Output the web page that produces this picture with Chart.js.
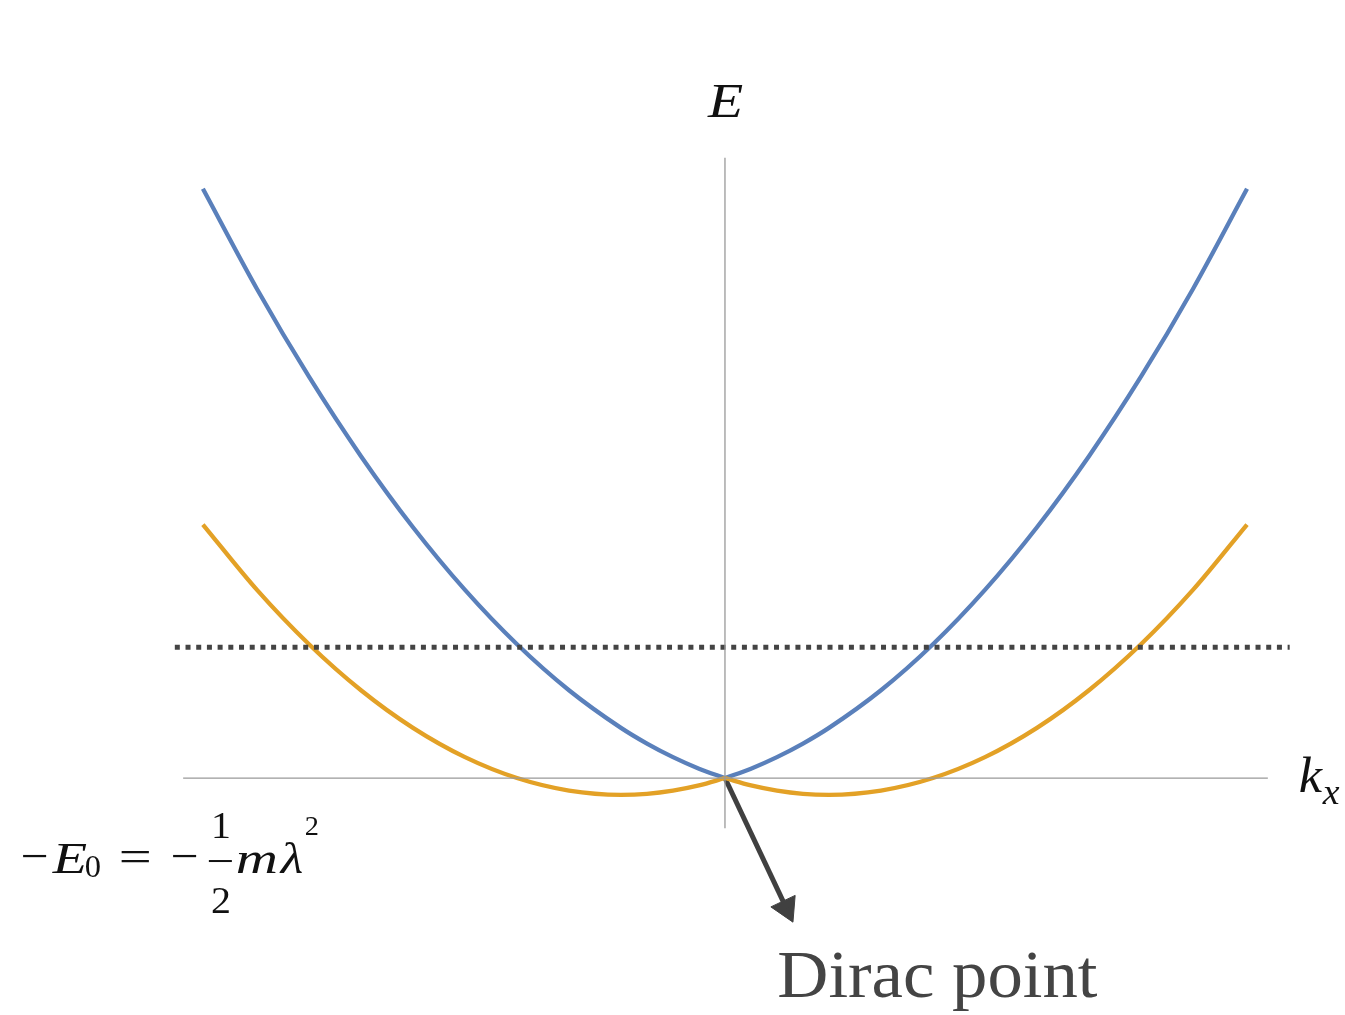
<!DOCTYPE html>
<html>
<head>
<meta charset="utf-8">
<script src="https://cdn.jsdelivr.net/npm/chart.js@4/dist/chart.umd.min.js"></script>
<style>
  html, body { margin: 0; padding: 0; background: #fff; }
  #wrap { width: 1345px; height: 1015px; }
</style>
</head>
<body>
<div id="wrap"><canvas id="bands" width="1345" height="1015"></canvas></div>
<script>
// momentum k (units of m*lambda), right half; left half is the mirror image
let kRight = [0, 0.25, 0.5, 0.75, 1, 1.5, 2, 2.5, 3, 3.5, 4, 4.5, 5.02]
// energies (units of E0/2) for the two spin branches
let upperE = [0, 0.56, 1.25, 2.06, 3, 5.25, 8, 11.25, 15, 19.25, 24, 29.25, 35.24]
let lowerE = [0, -0.44, -0.75, -0.94, -1, -0.75, 0, 1.25, 3, 5.25, 8, 11.25, 15.16]

let fermiLevel = 7.83
let fermiRange = [-5.29, 5.43]
let kAxisRange = [-5.21, 5.22]
let eAxisRange = [-3.0, 37.1]
// arrow from the crossing down to the label
let arrowFrom = [0, 0]
let arrowTo = [0.59, -7.78]

let blue = '#5a80bb'
let orange = '#e3a126'

function branch(ks, es, sign){
    return ks.map((k, i) => ({x: sign * k, y: es[i]}))
}

function curve(points, color){
    return {
        data: points,
        showLine: true,
        borderColor: color,
        borderWidth: 4.3,
        pointRadius: 0,
        cubicInterpolationMode: 'monotone',
        fill: false
    }
}

function straight(points, color, width, dash){
    return {
        data: points,
        showLine: true,
        borderColor: color,
        borderWidth: width,
        borderDash: dash || [],
        borderCapStyle: 'butt',
        pointRadius: 0,
        tension: 0,
        fill: false
    }
}

// text stretched sideways a little, the serif here is narrower than TeX's
function wideText(ctx, txt, x, y, font, sx){
    ctx.save()
    ctx.font = font
    ctx.translate(x, y)
    ctx.scale(sx, 1)
    ctx.fillText(txt, 0, 0)
    ctx.restore()
}

// text labels drawn on top, anchored through the scales
const labelsPlugin = {
    id: 'labels',
    afterDraw(chart){
        const ctx = chart.ctx
        const xs = chart.scales.x
        const ys = chart.scales.y
        const px = (k, e) => [xs.getPixelForValue(k), ys.getPixelForValue(e)]
        const it = 'italic 45px "Liberation Serif"'
        const up = '45px "Liberation Serif"'
        const frac = '38px "Liberation Serif"'
        ctx.save()
        ctx.fillStyle = '#111'
        ctx.textBaseline = 'alphabetic'
        ctx.textAlign = 'left'

        // E on the vertical axis
        let [ex, ey] = px(0, eAxisRange[1])
        wideText(ctx, 'E', ex - 17, ey - 41, 'italic 48px "Liberation Serif"', 1.2)

        // k_x on the horizontal axis
        let [kx, ky] = px(kAxisRange[1], 0)
        wideText(ctx, 'k', kx + 31, ky + 14, 'italic 50px "Liberation Serif"', 1.05)
        wideText(ctx, 'x', kx + 55, ky + 26, 'italic 36px "Liberation Serif"', 1.05)

        // -E0 = -1/2 m lambda^2
        let [fx, fy] = px(-6.78, -5.68)
        wideText(ctx, '\u2212', fx + 1, fy - 2, up, 1.1)
        wideText(ctx, 'E', fx + 33, fy, it, 1.25)
        wideText(ctx, '0', fx + 65, fy + 4, '31px "Liberation Serif"', 1.05)
        wideText(ctx, '=', fx + 99, fy - 2, up, 1.3)
        wideText(ctx, '\u2212', fx + 151, fy - 2, up, 1.1)
        ctx.textAlign = 'center'
        wideText(ctx, '1', fx + 201, fy - 35, frac, 1.05)
        wideText(ctx, '2', fx + 201, fy + 40, frac, 1.05)
        ctx.fillRect(fx + 189, fy - 13, 23, 2)
        ctx.textAlign = 'left'
        wideText(ctx, 'm', fx + 216, fy, it, 1.3)
        wideText(ctx, '\u03bb', fx + 261, fy, it, 1.15)
        wideText(ctx, '2', fx + 285, fy - 38, '27px "Liberation Serif"', 1.05)

        // Dirac point label
        let [dx, dy] = px(arrowTo[0], arrowTo[1])
        ctx.fillStyle = '#444'
        wideText(ctx, 'Dirac point', dx - 9, dy + 89, '68px "Liberation Serif"', 1.04)
        ctx.restore()
    }
}

let datasets = [
    straight([{x: kAxisRange[0], y: 0}, {x: kAxisRange[1], y: 0}], '#999', 1.3),
    straight([{x: 0, y: eAxisRange[0]}, {x: 0, y: eAxisRange[1]}], '#999', 1.3),
    straight([{x: fermiRange[0], y: fermiLevel}, {x: fermiRange[1], y: fermiLevel}], '#444', 5, [5, 5.7]),
    curve(branch(kRight, lowerE, -1), orange),
    curve(branch(kRight, lowerE, 1), orange),
    curve(branch(kRight, upperE, -1), blue),
    curve(branch(kRight, upperE, 1), blue),
    straight([{x: arrowFrom[0], y: arrowFrom[1]}, {x: arrowTo[0], y: arrowTo[1]}], '#404040', 5),
    {
        data: [{x: arrowTo[0], y: arrowTo[1]}],
        pointStyle: 'triangle',
        rotation: 154.7,
        pointRadius: 15.5,
        pointBackgroundColor: '#404040',
        pointBorderColor: '#404040',
        pointBorderWidth: 1,
        showLine: false
    }
]

new Chart(document.getElementById('bands'), {
    type: 'scatter',
    data: { datasets: datasets },
    options: {
        responsive: false,
        animation: false,
        layout: { padding: 0, autoPadding: false },
        plugins: {
            legend: { display: false },
            tooltip: { enabled: false }
        },
        scales: {
            x: { type: 'linear', display: false, min: -6.971, max: 5.962 },
            y: { type: 'linear', display: false, min: -14.17, max: 46.53 }
        }
    },
    plugins: [labelsPlugin]
})
</script>
</body>
</html>
